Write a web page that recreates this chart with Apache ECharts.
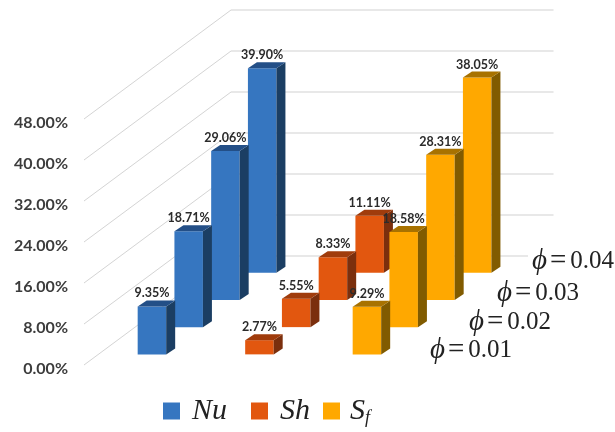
<!DOCTYPE html>
<html>
<head>
<meta charset="utf-8">
<style>
  html, body { margin: 0; padding: 0; background: #fff; }
  #chart { width: 615px; height: 432px; }
</style>
<script src="https://cdn.jsdelivr.net/npm/echarts@6/dist/echarts.min.js"></script>
</head>
<body>
<div id="chart"></div>
<script>
// 数据: 从图上读取
const categories = ['Nu', 'Sh', 'Sf'];
const phiLabels = ['0.01', '0.02', '0.03', '0.04'];
const nuValues = [9.35, 18.71, 29.06, 39.90];
const shValues = [2.77, 5.55, 8.33, 11.11];
const sfValues = [9.29, 18.58, 28.31, 38.05];
const yTicks = [0, 8, 16, 24, 32, 40, 48];

// 斜投影: 整个深度方向的像素偏移
const depthX = 147, depthY = -109;
const slots = phiLabels.length;
const barW = 28.5, barDX = 9, barDY = -6;

// phi 标签位置 [left, top]
const phiPos = [[426, 336], [465, 308], [493, 279], [528, 247]];

function toRows(values, catIdx) {
  // 从后往前画, 近处的柱子盖住远处的
  return values.map((v, i) => [catIdx, i, v]).reverse();
}

function barRender(front, side, top) {
  return function (params, api) {
    const d = api.value(1), v = api.value(2);
    const ox = (d + 0.5) * depthX / slots - barDX / 2;
    const oy = (d + 0.5) * depthY / slots - barDY / 2;
    const base = api.coord([api.value(0), 0]);
    const head = api.coord([api.value(0), v]);
    const x = base[0] + ox - barW / 2 + 0.3;
    const y0 = base[1] + oy;
    const y1 = head[1] + oy;
    return {
      type: 'group',
      children: [
        { type: 'rect', shape: { x: x, y: y1, width: barW, height: y0 - y1 }, style: { fill: front } },
        { type: 'polygon', shape: { points: [[x + barW, y0], [x + barW + barDX, y0 + barDY], [x + barW + barDX, y1 + barDY], [x + barW, y1]] }, style: { fill: side } },
        { type: 'polygon', shape: { points: [[x, y1], [x + barW, y1], [x + barW + barDX, y1 + barDY], [x + barDX, y1 + barDY]] }, style: { fill: top } },
        {
          type: 'text', z2: 10,
          style: {
            x: x + barW / 2, y: y1 - 13,
            text: v.toFixed(2) + '%',
            align: 'center', verticalAlign: 'middle',
            font: 'bold 12.5px Lato', fill: '#2b2b2b'
          }
        }
      ]
    };
  };
}

function wallRender(params, api) {
  const p = api.coord([0, api.value(0)]);
  const x0 = params.coordSys.x, x1 = x0 + params.coordSys.width;
  return {
    type: 'group',
    children: [
      { type: 'line', shape: { x1: x0, y1: p[1], x2: x0 + depthX, y2: p[1] + depthY }, style: { stroke: '#d4d4d4', lineWidth: 1 } },
      { type: 'line', shape: { x1: x0 + depthX, y1: p[1] + depthY, x2: x1 + depthX, y2: p[1] + depthY }, style: { stroke: '#e0e0e0', lineWidth: 1.5 } }
    ]
  };
}

function makeBars(name, values, catIdx, colors) {
  return {
    name: name,
    type: 'custom',
    coordinateSystem: 'cartesian2d',
    renderItem: barRender(colors[0], colors[1], colors[2]),
    itemStyle: { color: colors[0] },
    encode: { x: 0, y: 2 },
    data: toRows(values, catIdx),
    clip: false,
    animation: false,
    z: 5
  };
}

const legendFont = { fontFamily: 'Liberation Serif', fontStyle: 'italic', fontSize: 30, color: '#222' };

function makeLegend(name, left, pad, formatter, rich) {
  return {
    data: [name],
    left: left,
    top: 396,
    padding: 0,
    itemWidth: 17,
    itemHeight: 17,
    icon: 'rect',
    formatter: formatter,
    textStyle: Object.assign({}, legendFont, { padding: [0, 0, 0, pad], rich: rich })
  };
}

const chart = echarts.init(document.getElementById('chart'), null, { renderer: 'canvas' });

chart.setOption({
  animation: false,
  backgroundColor: '#fff',
  grid: { left: 84, right: 208.5, top: 119, bottom: 67, containLabel: false },
  xAxis: {
    type: 'category',
    data: categories,
    axisLine: { show: false },
    axisTick: { show: false },
    axisLabel: { show: false }
  },
  yAxis: {
    type: 'value',
    min: 0,
    max: 48,
    interval: 8,
    splitLine: { show: false },
    axisLine: { show: false },
    axisTick: { show: false },
    axisLabel: {
      margin: 16,
      formatter: v => '{a|' + v.toFixed(2) + '%}',
      rich: {
        a: {
          fontFamily: 'Lato',
          fontWeight: 'bold',
          fontSize: 16,
          color: '#3c3c3c',
          lineHeight: 23,
          verticalAlign: 'bottom'
        }
      }
    }
  },
  legend: [
    makeLegend('Nu', 163, 7, 'Nu'),
    makeLegend('Sh', 251, 7, 'Sh'),
    makeLegend('Sf', 323, 5, '{s|S}{f|f}', {
      s: legendFont,
      f: { fontFamily: 'Liberation Serif', fontStyle: 'italic', fontSize: 18, color: '#222', verticalAlign: 'bottom', padding: [14, 0, 0, 0] }
    })
  ],
  series: [
    {
      type: 'custom',
      coordinateSystem: 'cartesian2d',
      renderItem: wallRender,
      encode: { y: 0 },
      data: yTicks.map(t => [t]),
      silent: true,
      clip: false,
      z: 1
    },
    makeBars('Nu', nuValues, 0, ['#3676c0', '#1b3e63', '#234f87']),
    makeBars('Sh', shValues, 1, ['#e2570f', '#7b2f0d', '#a03c0c']),
    makeBars('Sf', sfValues, 2, ['#ffa800', '#815b00', '#a87200'])
  ],
  graphic: phiLabels.map((t, i) => ({
    type: 'text',
    left: phiPos[i][0],
    top: phiPos[i][1],
    z: 20,
    style: {
      text: '{p|\u03d5}{e|=}{n|' + t + '}',
      backgroundColor: '#fff',
      padding: [0, 0, 0, 4],
      rich: {
        p: { font: 'italic 29px "Liberation Serif"', fill: '#222' },
        e: { font: '29px "Liberation Serif"', fill: '#222', padding: [0, 4, 0, 3] },
        n: { font: '25px "Liberation Serif"', fill: '#222' }
      }
    }
  }))
});
</script>
</body>
</html>
